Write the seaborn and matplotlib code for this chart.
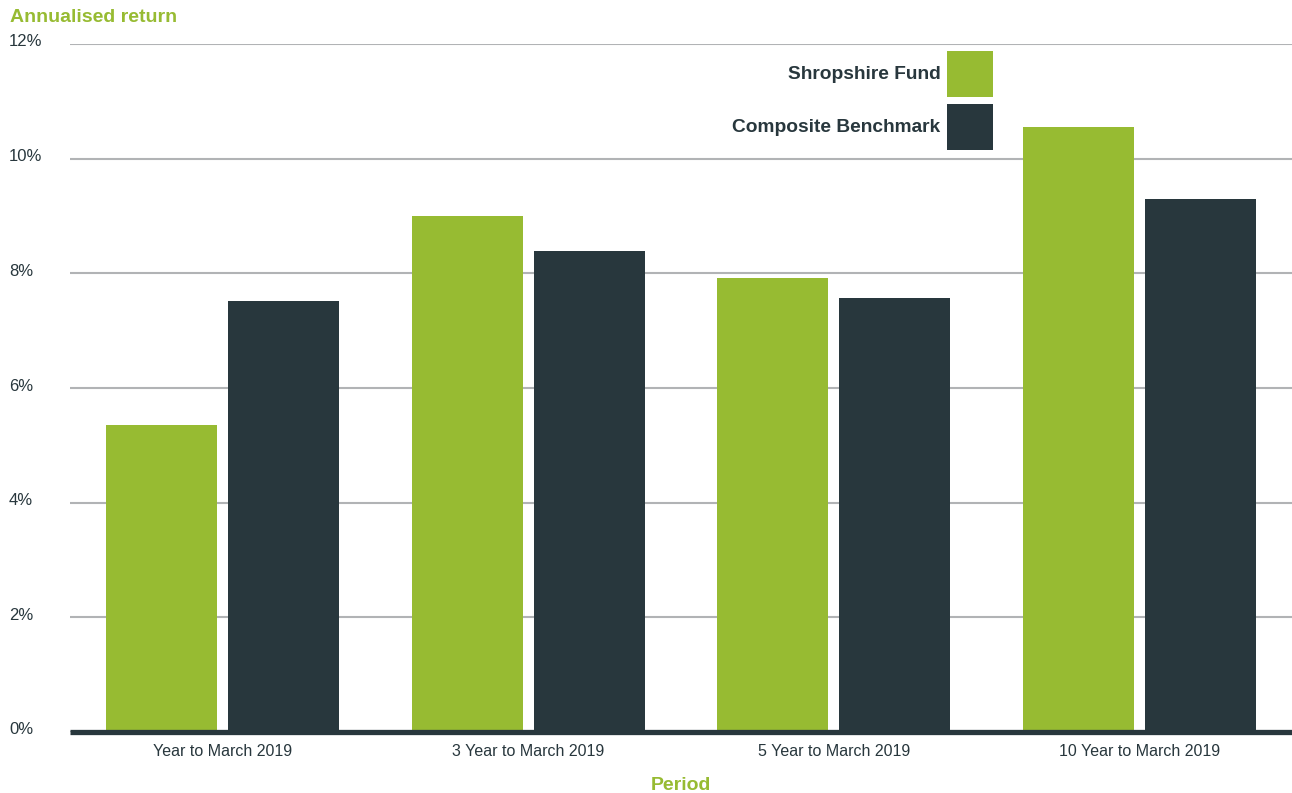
import matplotlib
matplotlib.use("Agg")
import matplotlib.pyplot as plt
import matplotlib.transforms as mtransforms
from matplotlib.patches import Patch
import seaborn as sns
import pandas as pd

periods = ["Year to March 2019", "3 Year to March 2019", "5 Year to March 2019", "10 Year to March 2019"]
fund = [5.35, 9.0, 7.92, 10.55]
benchmark = [7.52, 8.39, 7.57, 9.29]
series_names = ["Shropshire Fund", "Composite Benchmark"]
yticks = [0, 2, 4, 6, 8, 10, 12]
ytick_labels = ["0%", "2%", "4%", "6%", "8%", "10%", "12%"]

GREEN = "#97bb32"
DARK = "#28373d"
GRID = "#b1b3b5"

df = pd.DataFrame({
    "Period": periods * 2,
    "Return": fund + benchmark,
    "Series": [series_names[0]] * 4 + [series_names[1]] * 4,
})

sns.set_theme(style="white")
plt.rcParams["font.family"] = ["Liberation Sans", "DejaVu Sans"]

fig = plt.figure(figsize=(12.92, 7.93), dpi=100)
ax = fig.add_axes([70 / 1292, 1 - 732 / 793, 1 - 70 / 1292, (732 - 44) / 793])

sns.barplot(data=df, x="Period", y="Return", hue="Series", order=periods,
            hue_order=series_names, palette={series_names[0]: GREEN, series_names[1]: DARK},
            width=0.8, gap=0.09, saturation=1, legend=False, ax=ax, zorder=3,
            linewidth=0, edgecolor="none")

ax.set_xlim(-0.5, 3.5)
ax.set_ylim(0, 12)
ax.set_yticks(yticks)
ax.set_yticklabels(ytick_labels)
ax.yaxis.grid(True, color=GRID, linewidth=1.5, zorder=0)
ax.set_axisbelow(True)
for s in ["top", "right", "left"]:
    ax.spines[s].set_visible(False)
ax.spines["bottom"].set_color(DARK)
ax.spines["bottom"].set_linewidth(3.8)
ax.spines["bottom"].set_zorder(5)
ax.spines["bottom"].set_capstyle("butt")

ax.tick_params(axis="both", length=0, labelcolor=DARK)
ax.tick_params(axis="x", pad=9, labelsize=11.5)
ax.tick_params(axis="y", pad=44, labelsize=12)
shift = mtransforms.ScaledTranslation(0, 3.5 / 100, fig.dpi_scale_trans)
for lbl in ax.get_yticklabels():
    lbl.set_horizontalalignment("left")
    lbl.set_transform(lbl.get_transform() + shift)

ax.set_ylabel("")
ax.set_xlabel("Period", fontsize=14, fontweight="bold", color=GREEN, labelpad=12.5)
fig.text(10 / 1292, 1 - 18 / 793, "Annualised return", fontsize=14, fontweight="bold",
         color=GREEN, ha="left", va="center")

handles = [Patch(facecolor=GREEN, edgecolor="none"), Patch(facecolor=DARK, edgecolor="none")]
ax.legend(handles, series_names, loc="upper right",
          bbox_to_anchor=(993 / 1292, 1 - 51 / 793), bbox_transform=fig.transFigure,
          frameon=False, markerfirst=False, borderpad=0, borderaxespad=0,
          handlelength=2.4, handleheight=3.3, handletextpad=0.35, labelspacing=0.36,
          prop={"size": 13.8, "weight": "bold"}, labelcolor=DARK)

fig.savefig("out.png", dpi=100)
